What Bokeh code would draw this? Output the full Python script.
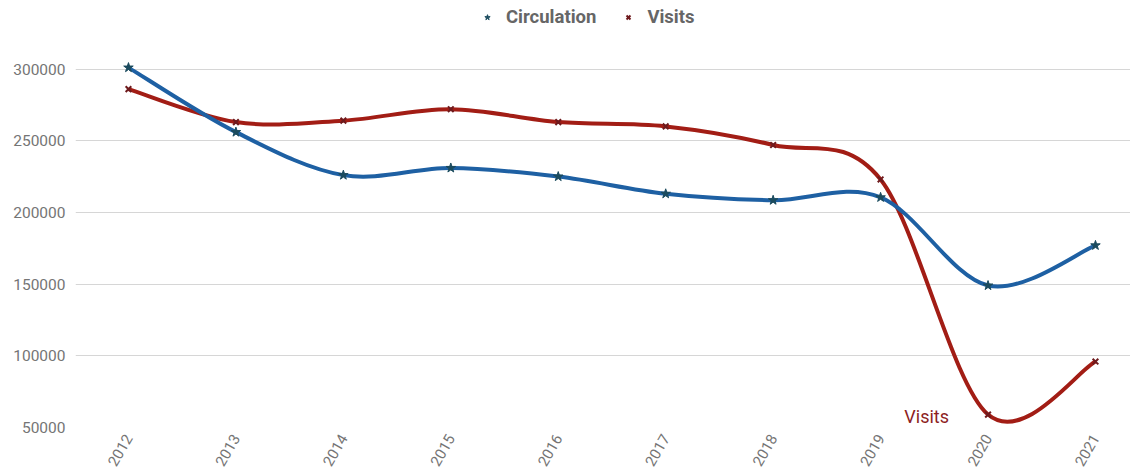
from bokeh.plotting import figure
from bokeh.models import Range1d, FixedTicker, BasicTickFormatter, Legend, LegendItem, Label, ColumnDataSource
from bokeh.embed import file_html
from bokeh.resources import INLINE
import math

years = [2012, 2013, 2014, 2015, 2016, 2017, 2018, 2019, 2020, 2021]
circulation = [301000, 256000, 226000, 231000, 225000, 213000, 208500, 210500, 149000, 177000]
visits = [286000, 263000, 264000, 272000, 263000, 260000, 247000, 223000, 59000, 96000]
y_ticks = [50000, 100000, 150000, 200000, 250000, 300000]

BLUE = "#1e60a3"
RED = "#a21d15"
FONT = "Roboto"
GREY = "#757575"


def bezier_segments(xs, ys):
    n = len(xs)
    seg = dict(x0=[], y0=[], x1=[], y1=[], cx0=[], cy0=[], cx1=[], cy1=[])
    for i in range(n - 1):
        xp, yp = (xs[i - 1], ys[i - 1]) if i > 0 else (xs[i], ys[i])
        xn, yn = (xs[i + 2], ys[i + 2]) if i + 2 < n else (xs[i + 1], ys[i + 1])
        seg["x0"].append(xs[i]); seg["y0"].append(ys[i])
        seg["x1"].append(xs[i + 1]); seg["y1"].append(ys[i + 1])
        seg["cx0"].append(xs[i] + (xs[i + 1] - xp) / 6.0)
        seg["cy0"].append(ys[i] + (ys[i + 1] - yp) / 6.0)
        seg["cx1"].append(xs[i + 1] - (xn - xs[i]) / 6.0)
        seg["cy1"].append(ys[i + 1] - (yn - ys[i]) / 6.0)
    return ColumnDataSource(seg)


p = figure(width=1130, height=473, output_backend="svg", toolbar_location=None,
           x_range=Range1d(2011.507, 2021.326), y_range=Range1d(50000, 347800),
           min_border_left=75, min_border_right=0, min_border_top=0, min_border_bottom=46)
p.outline_line_color = None
p.background_fill_color = "white"

p.xgrid.visible = False
p.ygrid.grid_line_color = "#d6d6d6"
p.ygrid.grid_line_width = 1

p.xaxis.ticker = FixedTicker(ticks=years)
p.yaxis.ticker = FixedTicker(ticks=y_ticks)
p.yaxis.formatter = BasicTickFormatter(use_scientific=False)
for ax in (p.xaxis, p.yaxis):
    ax.axis_line_color = None
    ax.major_tick_line_color = None
    ax.minor_tick_line_color = None
    ax.major_tick_out = 0
    ax.major_tick_in = 0
    ax.major_label_text_font = FONT
    ax.major_label_text_color = GREY
p.yaxis.major_label_text_font_size = "15.5px"
p.xaxis.major_label_text_font_size = "15px"
p.yaxis.major_label_standoff = 10
p.xaxis.major_label_standoff = 8
p.xaxis.major_label_orientation = math.pi / 3

src_v = bezier_segments(years, visits)
src_c = bezier_segments(years, circulation)
p.bezier(x0="x0", y0="y0", x1="x1", y1="y1", cx0="cx0", cy0="cy0", cx1="cx1", cy1="cy1",
         source=src_v, line_color=RED, line_width=4)
p.bezier(x0="x0", y0="y0", x1="x1", y1="y1", cx0="cx0", cy0="cy0", cx1="cx1", cy1="cy1",
         source=src_c, line_color=BLUE, line_width=4)

mk_c = p.scatter(x=years, y=circulation, marker="star", size=10, fill_color="#1b4b5e", line_color="#1b4b5e")
mk_v = p.scatter(x=years, y=visits, marker="x", size=8, line_color="#6e1a1d", line_width=2)

legend = Legend(items=[LegendItem(label="Circulation", renderers=[mk_c]),
                       LegendItem(label="Visits", renderers=[mk_v])],
                orientation="horizontal", location=(403, 397),
                label_text_font=FONT, label_text_font_size="18.5px", label_text_font_style="bold",
                label_text_color="#666666", border_line_alpha=0, background_fill_alpha=0,
                padding=2, margin=0, spacing=25, glyph_width=14, glyph_height=18, label_standoff=12)
p.add_layout(legend, "center")

p.add_layout(Label(x=years[8], y=visits[8], text="Visits", text_align="right", text_baseline="middle",
                   x_offset=-39, y_offset=-2, text_font=FONT, text_font_size="18px", text_color="#8e1f1f"))

open("out.html", "w").write(file_html(p, INLINE))
